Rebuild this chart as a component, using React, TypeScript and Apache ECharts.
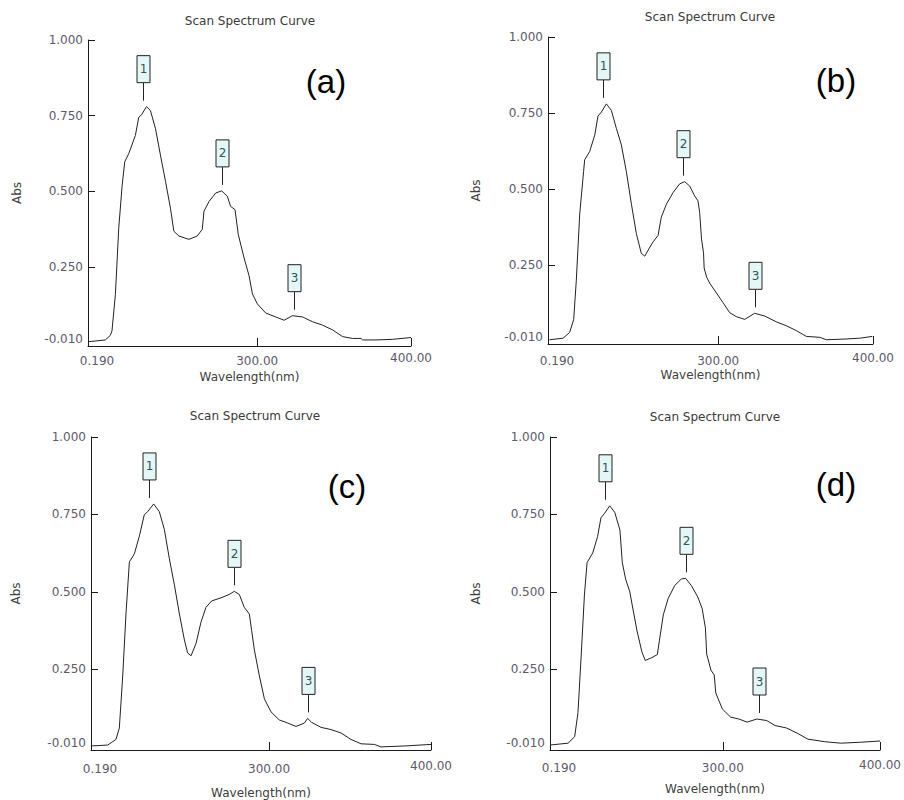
import { useEffect, useRef } from "react";
import * as echarts from "echarts";

// ---------- data ----------
const panelLetters = ["(a)", "(b)", "(c)", "(d)"];
const chartTitle = "Scan Spectrum Curve";
const xTicks = [190, 300, 400];
const xTickLabels = ["0.190", "300.00", "400.00"];
const yTicks = [-0.01, 0.25, 0.5, 0.75, 1.0];
const yTickLabels = ["-0.010", "0.250", "0.500", "0.750", "1.000"];
const peakLabels = ["1", "2", "3"];

const nmA = [190, 201.3, 204.5, 205.6, 207.8, 210, 212.2, 213.9, 216.5, 220.8, 223, 224.8, 228, 230.6, 233.9, 237.1, 240.4, 243.6, 245.8, 249.1, 255.6, 261, 264.3, 265.4, 268.7, 273, 276.9, 280.6, 282.7, 285.6, 287.7, 291.4, 294.7, 296.9, 300.1, 305.5, 312, 317.5, 322.9, 329.4, 336, 342.5, 349, 355.5, 362, 367.5, 368.5, 377.2, 388, 400];
const absA = [0.004, 0.01, 0.025, 0.04, 0.16, 0.38, 0.52, 0.598, 0.625, 0.685, 0.745, 0.753, 0.78, 0.767, 0.707, 0.62, 0.533, 0.445, 0.369, 0.353, 0.342, 0.353, 0.375, 0.435, 0.467, 0.495, 0.502, 0.484, 0.451, 0.44, 0.358, 0.282, 0.222, 0.162, 0.129, 0.099, 0.086, 0.075, 0.09, 0.086, 0.07, 0.059, 0.043, 0.021, 0.015, 0.015, 0.01, 0.01, 0.012, 0.018];
const peakNmA = [225.6, 276.9, 324.0];
const peakAbsA = [0.78, 0.502, 0.09];

const nmB = [191, 199.7, 204, 206.6, 208.3, 210.5, 213, 213.7, 216.9, 220.2, 222.3, 224.5, 227.7, 230.9, 234.2, 237.4, 240.6, 243.9, 247.1, 250.3, 252.5, 255.3, 257.9, 261.1, 263.2, 266.5, 270.8, 275.1, 278.3, 281.5, 284.8, 286.9, 288, 289.2, 290.5, 290.9, 292.5, 294.5, 298.8, 303.1, 307.4, 311.7, 317.1, 323.5, 330, 337.5, 344, 350.5, 356.9, 365.6, 369.9, 380.6, 391.4, 399.6];
const absB = [0.004, 0.009, 0.028, 0.071, 0.2, 0.418, 0.558, 0.596, 0.623, 0.677, 0.74, 0.753, 0.78, 0.759, 0.699, 0.645, 0.558, 0.45, 0.353, 0.288, 0.279, 0.304, 0.326, 0.347, 0.407, 0.45, 0.488, 0.517, 0.524, 0.51, 0.477, 0.461, 0.423, 0.335, 0.29, 0.24, 0.21, 0.19, 0.158, 0.126, 0.093, 0.08, 0.071, 0.091, 0.082, 0.063, 0.05, 0.034, 0.015, 0.012, 0.004, 0.006, 0.009, 0.015];
const peakNmB = [225.5, 277.2, 323.5];
const peakAbsB = [0.78, 0.524, 0.091];

const nmC = [190, 200.3, 205.4, 207.5, 209.6, 211.6, 213.7, 216.8, 219.9, 222.9, 225, 228.7, 232.2, 235.3, 238.4, 241.5, 244.6, 247.7, 249.7, 251.8, 254.9, 257.9, 261, 264.5, 270.3, 275.4, 278.5, 281.6, 284.7, 287.8, 289.2, 290.9, 294, 297.1, 301.2, 306.3, 311.5, 316.6, 321.8, 323.8, 326.3, 332.1, 338.2, 344.4, 350.6, 356.8, 365, 369.1, 383.5, 400];
const absC = [0.003, 0.006, 0.024, 0.061, 0.229, 0.429, 0.597, 0.623, 0.681, 0.749, 0.759, 0.784, 0.759, 0.702, 0.607, 0.523, 0.429, 0.345, 0.303, 0.294, 0.334, 0.402, 0.45, 0.471, 0.481, 0.492, 0.502, 0.492, 0.45, 0.429, 0.376, 0.313, 0.229, 0.155, 0.113, 0.087, 0.077, 0.066, 0.077, 0.092, 0.079, 0.063, 0.056, 0.045, 0.024, 0.01, 0.008, 0.0, 0.003, 0.008];
const peakNmC = [225.6, 278.5, 324.2];
const peakAbsC = [0.784, 0.502, 0.092];

const nmD = [190, 201.5, 205.7, 207.8, 209.9, 211.9, 213.6, 217.2, 220.3, 222.4, 224.5, 228, 231.2, 234.5, 236, 238.1, 240.8, 242.3, 245.4, 248.5, 250.6, 254.8, 258.3, 259.6, 262.1, 265.2, 269.4, 273.6, 276.3, 279.9, 284, 286.8, 288.9, 289.7, 292.4, 294.5, 295.5, 299.7, 305, 310.2, 315.4, 321.7, 327.9, 333.2, 340.5, 347.8, 354.1, 364.5, 375, 387.5, 400];
const absD = [0.006, 0.012, 0.033, 0.111, 0.3, 0.49, 0.595, 0.626, 0.679, 0.739, 0.752, 0.778, 0.757, 0.7, 0.595, 0.542, 0.5, 0.458, 0.374, 0.306, 0.279, 0.288, 0.298, 0.342, 0.426, 0.479, 0.521, 0.542, 0.544, 0.521, 0.484, 0.447, 0.384, 0.3, 0.248, 0.232, 0.174, 0.122, 0.096, 0.09, 0.08, 0.09, 0.085, 0.069, 0.061, 0.043, 0.025, 0.017, 0.012, 0.015, 0.019];
const peakNmD = [225.1, 276.3, 323.1];
const peakAbsD = [0.778, 0.544, 0.09];

const panelNm = [nmA, nmB, nmC, nmD];
const panelAbs = [absA, absB, absC, absD];
const panelPeakNm = [peakNmA, peakNmB, peakNmC, peakNmD];
const panelPeakAbs = [peakAbsA, peakAbsB, peakAbsC, peakAbsD];

// ---------- layout ----------
const layouts = [
  { left: 88, top: 40, width: 323, height: 306, titleX: 250, titleY: 15, letterX: 326, letterY: 65, labelMargin: 9, nameGap: 25, yNameGap: 65 },
  { left: 548, top: 37, width: 325, height: 307, titleX: 710, titleY: 11, letterX: 836, letterY: 64, labelMargin: 11, nameGap: 25, yNameGap: 66 },
  { left: 91, top: 437, width: 340, height: 315, titleX: 255, titleY: 410, letterX: 347, letterY: 470, labelMargin: 13, nameGap: 37, yNameGap: 69 },
  { left: 550, top: 437, width: 335, height: 313, titleX: 715, titleY: 411, letterX: 836, letterY: 468, labelMargin: 12, nameGap: 33, yNameGap: 68 },
];

const FONT = "DejaVu Sans";
const labelColor = "#5c5a6c";
const axisColor = "#1a1a1a";

function buildOption() {
  const grid: any[] = [];
  const xAxis: any[] = [];
  const yAxis: any[] = [];
  const series: any[] = [];
  const title: any[] = [];

  layouts.forEach((L, i) => {
    grid.push({ left: L.left, top: L.top, width: L.width, height: L.height, containLabel: false });
    title.push({
      text: chartTitle,
      left: L.titleX,
      top: L.titleY,
      textAlign: "center",
      padding: 0,
      textStyle: { fontFamily: FONT, fontSize: 12, fontWeight: "normal", color: "#3a3a3a" },
    });
    title.push({
      text: panelLetters[i],
      left: L.letterX,
      top: L.letterY,
      textAlign: "center",
      padding: 0,
      textStyle: { fontFamily: "Liberation Sans", fontSize: 33, fontWeight: "normal", color: "#000" },
    });
    xAxis.push({
      type: "value",
      gridIndex: i,
      min: 190,
      max: 400,
      axisLine: { show: true, onZero: false, lineStyle: { color: axisColor, width: 1 } },
      axisTick: { show: true, inside: true, length: 8, customValues: [300, 400], lineStyle: { color: axisColor } },
      axisLabel: {
        customValues: xTicks,
        margin: L.labelMargin,
        color: labelColor,
        fontFamily: FONT,
        fontSize: 12,
        formatter: (v: number) => {
          const idx = xTicks.findIndex((t) => Math.abs(t - v) < 1e-6);
          const s = idx >= 0 ? xTickLabels[idx] : "";
          if (idx === 0) return "{first|" + s + "}";
          if (idx === xTicks.length - 1) return "{last|" + s + "}";
          return s;
        },
        rich: {
          first: { padding: [0, 0, 0, 18], color: labelColor, fontFamily: FONT, fontSize: 12 },
          last: { lineHeight: 6, color: labelColor, fontFamily: FONT, fontSize: 12 },
        },
      },
      splitLine: { show: false },
      name: "Wavelength(nm)",
      nameLocation: "middle",
      nameGap: L.nameGap,
      nameTextStyle: { fontFamily: FONT, fontSize: 12, color: "#404040" },
    });
    yAxis.push({
      type: "value",
      gridIndex: i,
      min: -0.01,
      max: 1.0,
      axisLine: { show: true, onZero: false, lineStyle: { color: axisColor, width: 1 } },
      axisTick: { show: true, inside: true, length: 7, customValues: yTicks, lineStyle: { color: axisColor } },
      axisLabel: {
        customValues: yTicks,
        margin: 5,
        color: labelColor,
        fontFamily: FONT,
        fontSize: 12,
        formatter: (v: number) => {
          const idx = yTicks.findIndex((t) => Math.abs(t - v) < 1e-6);
          const s = idx >= 0 ? yTickLabels[idx] : "";
          if (idx === 0) return "{low|" + s + "}";
          return s;
        },
        rich: {
          low: { padding: [0, 0, 14, 0], color: labelColor, fontFamily: FONT, fontSize: 12 },
        },
      },
      splitLine: { show: false },
      name: "Abs",
      nameLocation: "middle",
      nameRotate: 90,
      nameGap: L.yNameGap,
      nameTextStyle: { fontFamily: FONT, fontSize: 12, color: "#404040" },
    });

    const nm = panelNm[i];
    const ab = panelAbs[i];
    series.push({
      type: "line",
      xAxisIndex: i,
      yAxisIndex: i,
      data: nm.map((x, k) => [x, ab[k]]),
      showSymbol: false,
      symbol: "none",
      smooth: false,
      lineStyle: { color: "#222", width: 1 },
      silent: true,
    });

    const pn = panelPeakNm[i];
    const pa = panelPeakAbs[i];
    series.push({
      type: "custom",
      xAxisIndex: i,
      yAxisIndex: i,
      silent: true,
      clip: false,
      data: pn.map((x, k) => [x, pa[k]]),
      renderItem: (params: any, api: any) => {
        const p = api.coord([api.value(0), api.value(1)]);
        const x = Math.round(p[0]) + 0.5;
        const y = p[1];
        const gap = 6;
        const lineLen = 18;
        const bw = 13;
        const bh = 27;
        const boxBottom = y - gap - lineLen;
        return {
          type: "group",
          children: [
            {
              type: "line",
              shape: { x1: x, y1: y - gap, x2: x, y2: boxBottom },
              style: { stroke: "#222", lineWidth: 1 },
            },
            {
              type: "rect",
              shape: { x: x - bw / 2, y: boxBottom - bh, width: bw, height: bh },
              style: { fill: "#e4f6f6", stroke: "#222", lineWidth: 1 },
            },
            {
              type: "text",
              style: {
                text: peakLabels[params.dataIndex],
                x: x,
                y: boxBottom - bh / 2,
                align: "center",
                verticalAlign: "middle",
                fontFamily: FONT,
                fontSize: 12,
                fill: "#2f5656",
              },
            },
          ],
        };
      },
    });
  });

  return {
    animation: false,
    backgroundColor: "#ffffff",
    title,
    grid,
    xAxis,
    yAxis,
    series,
  };
}

export default function App() {
  const ref = useRef<HTMLDivElement>(null);
  useEffect(() => {
    if (!ref.current) return;
    const chart = echarts.init(ref.current, undefined, { renderer: "svg" });
    chart.setOption(buildOption() as any);
    return () => chart.dispose();
  }, []);
  return (
    <div
      ref={ref}
      style={{ position: "absolute", left: 0, top: 0, width: 904, height: 800, background: "#fff" }}
    />
  );
}
